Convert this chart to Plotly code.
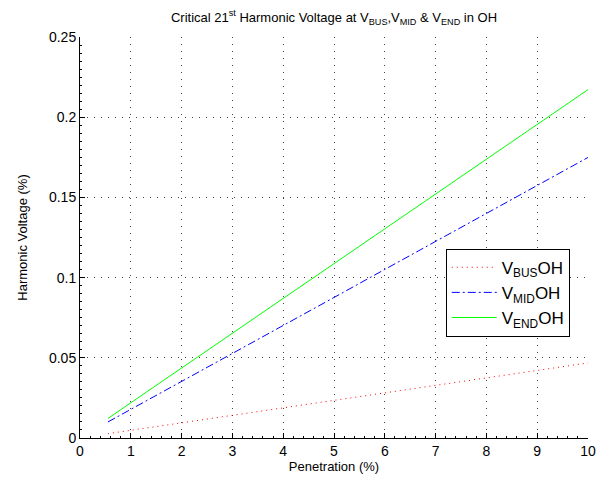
import plotly.graph_objects as go

penetration = [0.55, 1, 2, 3, 4, 5, 6, 7, 8, 9, 10]
v_bus = [0.0027, 0.0048, 0.0094, 0.0141, 0.0188, 0.0235, 0.0281, 0.0328, 0.0375, 0.0422, 0.0468]
v_mid = [0.0100, 0.0178, 0.0353, 0.0527, 0.0702, 0.0876, 0.1051, 0.1225, 0.1400, 0.1574, 0.1749]
v_end = [0.0122, 0.0219, 0.0436, 0.0653, 0.0870, 0.1087, 0.1304, 0.1521, 0.1738, 0.1955, 0.2172]

series_names = ["V<sub>BUS</sub>OH", "V<sub>MID</sub>OH", "V<sub>END</sub>OH"]
x_ticks = list(range(0, 11))
y_ticks = [0, 0.05, 0.1, 0.15, 0.2, 0.25]
y_tick_labels = ["0", "0.05", "0.1", "0.15", "0.2", "0.25"]

fig = go.Figure()
fig.add_trace(go.Scatter(x=penetration, y=v_bus, mode="lines", name=series_names[0],
                         line=dict(color="#ff0000", width=1, dash="1px,4px")))
fig.add_trace(go.Scatter(x=penetration, y=v_mid, mode="lines", name=series_names[1],
                         line=dict(color="#0000ff", width=1, dash="8px,3px,2px,3px")))
fig.add_trace(go.Scatter(x=penetration, y=v_end, mode="lines", name=series_names[2],
                         line=dict(color="#00ff00", width=1)))

font_family = "Liberation Sans, Arial, sans-serif"
W, H = 607, 476  # page body has an 8px margin
fig.update_layout(
    width=W, height=H,
    margin=dict(l=72, r=27, t=29, b=46),
    paper_bgcolor="white", plot_bgcolor="white",
    font=dict(family=font_family, color="black"),
    title=dict(text="Critical 21<sup>st</sup> Harmonic Voltage at V<sub>BUS</sub>,V<sub>MID</sub> & V<sub>END</sub> in OH",
               x=326 / W, xanchor="center", y=0.99, yanchor="top",
               font=dict(size=13, family=font_family)),
    legend=dict(x=0.72, y=0.472, xanchor="left", yanchor="top",
                bordercolor="black", borderwidth=1, bgcolor="white",
                font=dict(size=17, family=font_family), itemwidth=45),
    showlegend=True,
)
fig.update_xaxes(
    range=[0, 10], tickvals=x_ticks, ticks="inside", ticklen=5, tickcolor="black",
    showline=True, linecolor="black", linewidth=1, mirror=False, automargin=False,
    showgrid=True, gridcolor="#444444", griddash="1px,6px", gridwidth=1,
    zeroline=False, tickfont=dict(size=14),
    minor=dict(dtick=0.2, ticks="inside", ticklen=2, tickcolor="black", showgrid=False),
    title=dict(text="Penetration (%)", font=dict(size=13), standoff=4),
)
fig.update_yaxes(
    range=[0, 0.25], tickvals=y_ticks, ticktext=y_tick_labels, ticks="inside", ticklen=5,
    tickcolor="black", showline=True, linecolor="black", linewidth=1, mirror=False, automargin=False,
    showgrid=True, gridcolor="#444444", griddash="1px,6px", gridwidth=1,
    zeroline=False, tickfont=dict(size=14),
    minor=dict(dtick=0.005, ticks="inside", ticklen=2, tickcolor="black", showgrid=False),
    title=dict(text="Harmonic Voltage (%)", font=dict(size=13), standoff=18),
)

fig.write_html("out.html")
